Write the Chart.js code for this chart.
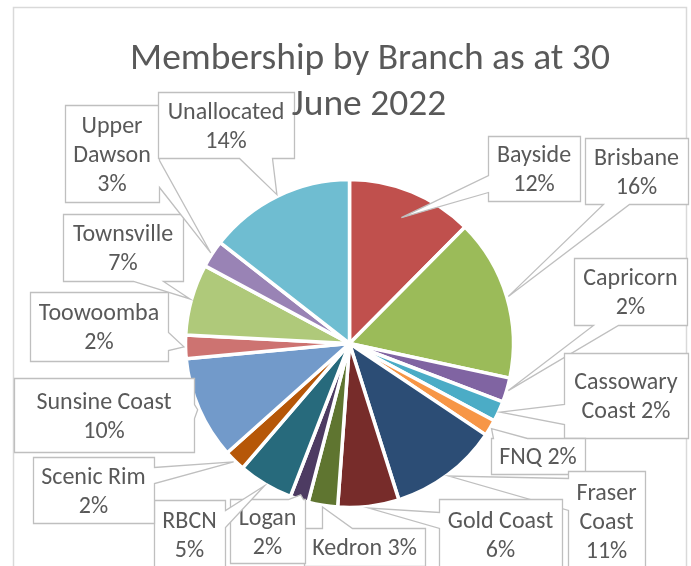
<!DOCTYPE html>
<html>
<head>
<meta charset="utf-8">
<script src="https://cdn.jsdelivr.net/npm/chart.js@4.4.1/dist/chart.umd.min.js"></script>
<style>
  html, body { margin: 0; padding: 0; background: #ffffff; }
  #wrap { width: 691px; height: 566px; position: relative; }
  canvas { display: block; }
</style>
</head>
<body>
<div id="wrap"><canvas id="c" width="691" height="566" style="width:691px;height:566px"></canvas></div>
<script>
// ---------------- data ----------------
const titleLines = ["Membership by Branch as at 30", "June 2022"];
const categories = ["Bayside", "Brisbane", "Capricorn", "Cassowary Coast", "FNQ", "Fraser Coast",
  "Gold Coast", "Kedron", "Logan", "RBCN", "Scenic Rim", "Sunsine Coast", "Toowoomba",
  "Townsville", "Upper Dawson", "Unallocated"];
const shares = [12.4, 15.9, 2.4, 2.0, 1.6, 10.7, 6.0, 2.9, 1.8, 5.4, 2.1, 10.1, 2.3, 7.0, 2.7, 14.4];
const sliceColors = ["#C0504D", "#9BBB59", "#8064A2", "#4BACC6", "#F79646", "#2C4D75",
  "#772C2A", "#5F7530", "#4D3B62", "#276A7C", "#B65708", "#729ACA", "#CD7371",
  "#AFC97A", "#9983B5", "#6FBDD1"];

// ---------------- label layout (callout boxes) ----------------
// box: [x, y, w, h]; side: edge carrying the pointer; base: two coords along that edge;
// tip: pointer tip radius as fraction of outer radius; fmt: line layout of text
const labelLayout = [
  { box: [488, 136, 92, 65],  side: "left",   base: [175, 192], tip: 0.83, fmt: "{n}\n{p}" },
  { box: [585, 138, 103, 66], side: "bottom", base: [603, 629], tip: 1.01, fmt: "{n}\n{p}" },
  { box: [574, 258, 113, 67], side: "bottom", base: [593, 618], tip: 1.01, fmt: "{n}\n{p}" },
  { box: [564, 353, 124, 85], side: "left",   base: [404, 424], tip: 1.01, fmt: "{w0}\n{w1} {p}" },
  { box: [491, 438, 94, 36],  side: "top",    base: [493, 527], tip: 1.01, fmt: "{n} {p}" },
  { box: [568, 471, 77, 99],  side: "left",   base: [478, 510], tip: 1.01, fmt: "{w0}\n{w1}\n{p}" },
  { box: [439, 499, 123, 70], side: "left",   base: [512, 528], tip: 1.01, fmt: "{n}\n{p}" },
  { box: [304, 528, 121, 38], side: "top",    base: [322, 352], tip: 1.01, fmt: "{n} {p}" },
  { box: [230, 499, 75, 64],  side: "top",    base: [288, 303], tip: 0.97, fmt: "{n}\n{p}" },
  { box: [154, 500, 71, 69],  side: "right",  base: [510, 527], tip: 1.01, fmt: "{n}\n{p}" },
  { box: [33, 457, 121, 66],  side: "right",  base: [467, 483], tip: 1.01, fmt: "{n}\n{p}" },
  { box: [14, 378, 180, 74],  side: "right",  base: [404, 418], tip: 1.01, fmt: "{n}\n{p}" },
  { box: [30, 292, 138, 69],  side: "right",  base: [332, 350], tip: 1.01, fmt: "{n}\n{p}" },
  { box: [63, 214, 120, 67],  side: "bottom", base: [133, 163], tip: 1.01, fmt: "{n}\n{p}" },
  { box: [65, 105, 94, 97],   side: "right",  base: [160, 187], tip: 1.01, fmt: "{w0}\n{w1}\n{p}" },
  { box: [158, 92, 136, 66],  side: "bottom", base: [239, 272], tip: 1.01, fmt: "{n}\n{p}" }
];

const FONT_FAMILY = "Carlito, Lato, 'Open Sans', sans-serif";
const TEXT_COLOR = "#595959";
const BOX_LINE = "#BFBFBF";
const FRAME_LINE = "#D9D9D9";

const total = shares.reduce((a, b) => a + b, 0);
function pctText(v) { return Math.round(v / total * 100) + "%"; }
function labelLines(i) {
  const name = categories[i];
  const words = name.split(" ");
  return labelLayout[i].fmt
    .replace("{n}", name)
    .replace("{w0}", words[0])
    .replace("{w1}", words.slice(1).join(" "))
    .replace("{p}", pctText(shares[i]))
    .split("\n");
}

// ---------------- plugins ----------------
const framePlugin = {
  id: "frame",
  beforeDraw(chart) {
    const ctx = chart.ctx;
    ctx.save();
    ctx.fillStyle = "#ffffff";
    ctx.fillRect(0, 0, chart.width, chart.height);
    ctx.strokeStyle = FRAME_LINE;
    ctx.lineWidth = 1.5;
    ctx.strokeRect(13.5, 7.5, 673, 640);
    ctx.restore();
  }
};

const calloutPlugin = {
  id: "callouts",
  afterDatasetsDraw(chart) {
    const ctx = chart.ctx;
    const meta = chart.getDatasetMeta(0);
    ctx.save();
    meta.data.forEach((arc, i) => {
      const L = labelLayout[i];
      const p = arc.getProps(["x", "y", "startAngle", "endAngle", "outerRadius"], true);
      const mid = (p.startAngle + p.endAngle) / 2;
      const r = p.outerRadius * L.tip;
      const tx = p.x + Math.cos(mid) * r;
      const ty = p.y + Math.sin(mid) * r;
      const [bx, by, bw, bh] = L.box;
      const x1 = Math.round(bx) + 0.5, y1 = Math.round(by) + 0.5;
      const x2 = Math.round(bx + bw) + 0.5, y2 = Math.round(by + bh) + 0.5;
      const a = Math.min(L.base[0], L.base[1]) + 0.5, b = Math.max(L.base[0], L.base[1]) + 0.5;
      ctx.beginPath();
      ctx.moveTo(x1, y1);
      if (L.side === "top") { ctx.lineTo(a, y1); ctx.lineTo(tx, ty); ctx.lineTo(b, y1); }
      ctx.lineTo(x2, y1);
      if (L.side === "right") { ctx.lineTo(x2, a); ctx.lineTo(tx, ty); ctx.lineTo(x2, b); }
      ctx.lineTo(x2, y2);
      if (L.side === "bottom") { ctx.lineTo(b, y2); ctx.lineTo(tx, ty); ctx.lineTo(a, y2); }
      ctx.lineTo(x1, y2);
      if (L.side === "left") { ctx.lineTo(x1, b); ctx.lineTo(tx, ty); ctx.lineTo(x1, a); }
      ctx.closePath();
      ctx.fillStyle = "#ffffff";
      ctx.fill();
      ctx.strokeStyle = BOX_LINE;
      ctx.lineWidth = 1.3;
      ctx.lineJoin = "miter";
      ctx.stroke();

      const lines = labelLines(i);
      const lh = 29;
      const cx = bx + bw / 2, cy = by + bh / 2;
      ctx.fillStyle = TEXT_COLOR;
      ctx.font = "24px " + FONT_FAMILY;
      ctx.textAlign = "center";
      ctx.textBaseline = "alphabetic";
      lines.forEach((t, k) => {
        const yy = cy + (k - (lines.length - 1) / 2) * lh + 8;
        ctx.fillText(t, cx, yy);
      });
    });
    ctx.restore();
  },
  afterDraw(chart) {
    const ctx = chart.ctx;
    ctx.save();
    ctx.fillStyle = TEXT_COLOR;
    ctx.font = "37.5px " + FONT_FAMILY;
    ctx.textAlign = "center";
    ctx.textBaseline = "alphabetic";
    ctx.fillText(titleLines[0], 370, 69);
    ctx.fillText(titleLines[1], 369, 115);
    ctx.restore();
  }
};

// ---------------- chart ----------------
const canvas = document.getElementById("c");
new Chart(canvas, {
  type: "pie",
  data: {
    labels: categories,
    datasets: [{
      data: shares,
      backgroundColor: sliceColors,
      borderColor: "#ffffff",
      borderWidth: 3.5
    }]
  },
  options: {
    responsive: false,
    maintainAspectRatio: false,
    animation: false,
    devicePixelRatio: 1,
    radius: 164,
    layout: { padding: { left: 186, right: 178, top: 179, bottom: 58 } },
    plugins: {
      legend: { display: false },
      tooltip: { enabled: false },
      title: { display: false }
    }
  },
  plugins: [framePlugin, calloutPlugin]
});
</script>
</body>
</html>
